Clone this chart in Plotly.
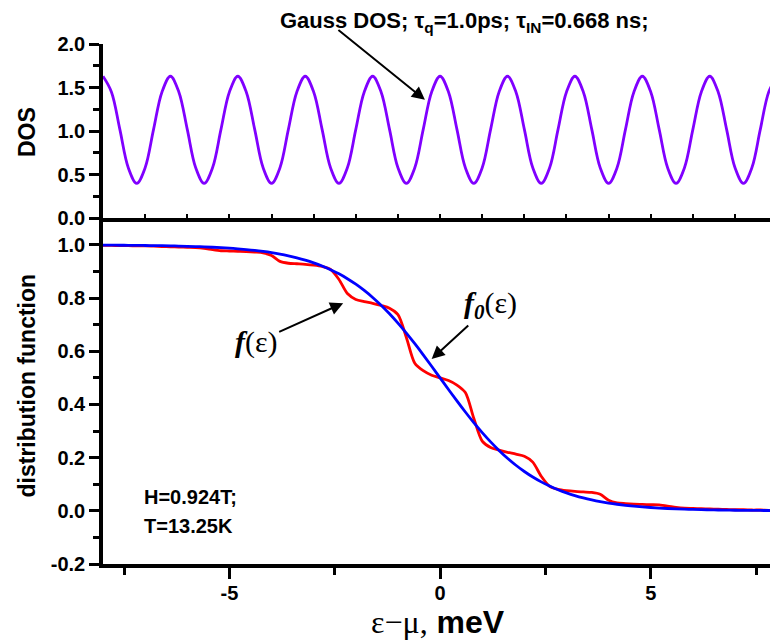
import numpy as np
import plotly.graph_objects as go

# Energy grid, eps - mu in meV
energy = np.linspace(-8.0, 8.0, 81)

# Gaussian-broadened density of states (top panel)
dos = [
    1.63, 1.45, 1.02, 0.58, 0.40, 0.58, 1.02, 1.45,
    1.63, 1.45, 1.02, 0.58, 0.40, 0.58, 1.02, 1.45,
    1.63, 1.45, 1.02, 0.58, 0.40, 0.58, 1.02, 1.45,
    1.63, 1.45, 1.02, 0.58, 0.40, 0.58, 1.02, 1.45,
    1.63, 1.45, 1.02, 0.58, 0.40, 0.58, 1.02, 1.45,
    1.63, 1.45, 1.02, 0.58, 0.40, 0.58, 1.02, 1.45,
    1.63, 1.45, 1.02, 0.58, 0.40, 0.58, 1.02, 1.45,
    1.63, 1.45, 1.02, 0.58, 0.40, 0.58, 1.02, 1.45,
    1.63, 1.45, 1.02, 0.58, 0.40, 0.58, 1.02, 1.45,
    1.63, 1.45, 1.02, 0.58, 0.40, 0.58, 1.02, 1.45,
    1.63,
]

# Non-equilibrium distribution f(eps)
f_noneq = [
    0.998, 0.998, 0.997, 0.997, 0.996, 0.996, 0.995, 0.994, 0.993, 0.992,
    0.991, 0.990, 0.987, 0.982, 0.978, 0.977, 0.976, 0.975, 0.973, 0.970,
    0.960, 0.938, 0.931, 0.929, 0.927, 0.924, 0.919, 0.908, 0.870, 0.817,
    0.795, 0.787, 0.780, 0.772, 0.762, 0.738, 0.652, 0.555, 0.527, 0.510,
    0.500,
    0.490, 0.473, 0.445, 0.348, 0.262, 0.238, 0.228, 0.220, 0.213, 0.205,
    0.183, 0.130, 0.092, 0.081, 0.076, 0.073, 0.071, 0.069, 0.062, 0.040,
    0.030, 0.027, 0.025, 0.024, 0.023, 0.022, 0.018, 0.013, 0.010, 0.009,
    0.008, 0.007, 0.006, 0.005, 0.004, 0.004, 0.003, 0.003, 0.002, 0.002,
]

# Equilibrium Fermi distribution f0(eps)
f_fermi = [
    0.9991, 0.9989, 0.9987, 0.9985, 0.9982, 0.9978, 0.9974, 0.9969, 0.9963, 0.9956,
    0.9948, 0.9938, 0.9926, 0.9912, 0.9896, 0.9876, 0.9853, 0.9825, 0.9792, 0.9753,
    0.9708, 0.9654, 0.9590, 0.9515, 0.9428, 0.9326, 0.9207, 0.9069, 0.8911, 0.8729,
    0.8521, 0.8287, 0.8024, 0.7731, 0.7409, 0.7059, 0.6683, 0.6284, 0.5867, 0.5437,
    0.5000,
    0.4563, 0.4133, 0.3716, 0.3317, 0.2941, 0.2591, 0.2269, 0.1976, 0.1713, 0.1479,
    0.1271, 0.1089, 0.0931, 0.0793, 0.0674, 0.0572, 0.0485, 0.0410, 0.0346, 0.0292,
    0.0247, 0.0208, 0.0175, 0.0147, 0.0124, 0.0104, 0.0088, 0.0074, 0.0062, 0.0052,
    0.0044, 0.0037, 0.0031, 0.0026, 0.0022, 0.0018, 0.0015, 0.0013, 0.0011, 0.0009,
]

x_ticks = [-5, 0, 5]
x_ticktext = ["-5", "0", "5"]
dos_ticks = [0.0, 0.5, 1.0, 1.5, 2.0]
dos_ticktext = ["0.0", "0.5", "1.0", "1.5", "2.0"]
f_ticks = [-0.2, 0.0, 0.2, 0.4, 0.6, 0.8, 1.0]
f_ticktext = ["-0.2", "0.0", "0.2", "0.4", "0.6", "0.8", "1.0"]

W, H = 770, 643
ML, MR, MT, MB = 103, 0, 44, 79
PW, PH = W - ML - MR, H - MT - MB
SPLIT = 1 - (218.3 - MT) / PH

SANS = "Liberation Sans"
SERIF = "Liberation Serif"


def px(xpix):
    return (xpix - ML) / PW


def py(ypix):
    return (H - MB - ypix) / PH


fig = go.Figure()
fig.add_trace(go.Scatter(x=energy, y=dos, xaxis="x2", yaxis="y2", mode="lines",
                         line=dict(color="#8000ff", width=2.8, shape="spline")))
fig.add_trace(go.Scatter(x=energy, y=f_noneq, mode="lines",
                         line=dict(color="#ff0000", width=2.8, shape="spline", smoothing=0.8)))
fig.add_trace(go.Scatter(x=energy, y=f_fermi, mode="lines",
                         line=dict(color="#0000ff", width=2.8, shape="spline")))

tickfont = dict(family=SANS, size=20, color="black", weight="bold")
common = dict(showgrid=False, zeroline=False, showline=True, linecolor="black",
              linewidth=3.5, tickcolor="black", tickwidth=3, mirror=False)

fig.update_layout(
    width=W, height=H, showlegend=False,
    margin=dict(l=ML, r=MR, t=MT, b=MB),
    paper_bgcolor="white", plot_bgcolor="white",
    xaxis=dict(domain=[0, 1], anchor="y", range=[-8.0, 7.83],
               tickvals=x_ticks, ticktext=x_ticktext, ticks="outside", ticklen=11,
               tickfont=tickfont, ticklabelstandoff=-3,
               minor=dict(tickvals=[-7.5, -2.5, 2.5, 7.5], ticks="outside", ticklen=7,
                          tickwidth=3, tickcolor="black"),
               **common),
    xaxis2=dict(domain=[0, 1], anchor="y2", matches="x", showticklabels=False,
                ticks="inside", ticklen=5, dtick=1, tick0=0, **{**common, "tickwidth": 2}),
    yaxis=dict(domain=[0, SPLIT], anchor="x", range=[-0.2, 1.1],
               tickvals=f_ticks, ticktext=f_ticktext, ticks="outside", ticklen=10,
               tickfont=tickfont,
               minor=dict(tickvals=[-0.1, 0.1, 0.3, 0.5, 0.7, 0.9], ticks="outside",
                          ticklen=6, tickwidth=3, tickcolor="black"),
               **common),
    yaxis2=dict(domain=[SPLIT, 1], anchor="x2", range=[0, 2.0],
                tickvals=dos_ticks, ticktext=dos_ticktext, ticks="outside", ticklen=10,
                tickfont=tickfont,
                minor=dict(tickvals=[0.25, 0.75, 1.25, 1.75], ticks="outside",
                           ticklen=6, tickwidth=3, tickcolor="black"),
                **common),
)

ann = []
# panel texts
ann.append(dict(xref="paper", yref="paper", x=px(464), y=py(22), xanchor="center",
                yanchor="middle", showarrow=False,
                text="<b>Gauss DOS; τ<sub>q</sub>=1.0ps; τ<sub>IN</sub>=0.668 ns;</b>",
                font=dict(family=SANS, size=22, color="black")))
ann.append(dict(xref="paper", yref="paper", x=px(27), y=py(132), textangle=-90,
                xanchor="center", yanchor="middle", showarrow=False, text="<b>DOS</b>",
                font=dict(family=SANS, size=23, color="black")))
ann.append(dict(xref="paper", yref="paper", x=px(26.5), y=py(386), textangle=-90,
                xanchor="center", yanchor="middle", showarrow=False,
                text="<b>distribution function</b>",
                font=dict(family=SANS, size=23, color="black")))
ann.append(dict(xref="paper", yref="paper", x=px(437.5), y=py(622), xanchor="center",
                yanchor="middle", showarrow=False,
                text="<span style='font-family:Liberation Serif'>ε−μ,</span><b> meV</b>",
                font=dict(family=SANS, size=32, color="black")))
ann.append(dict(xref="paper", yref="paper", x=px(141.5), y=py(497), xanchor="left",
                yanchor="middle", showarrow=False, text="<b>H=0.924T;</b>",
                font=dict(family=SANS, size=20, color="black")))
ann.append(dict(xref="paper", yref="paper", x=px(141.5), y=py(526), xanchor="left",
                yanchor="middle", showarrow=False, text="<b>T=13.25K</b>",
                font=dict(family=SANS, size=20, color="black")))

# arrow from the DOS caption to the curve
arrow = dict(showarrow=True, arrowhead=2, arrowsize=1.3, arrowwidth=2,
             arrowcolor="black", axref="pixel", ayref="pixel")
ann.append(dict(xref="x2", yref="y2", x=-0.36, y=1.36, ax=-88, ay=-71, text="", **arrow))

# curve labels with arrows pointing at the curves
ann.append(dict(xref="x", yref="y", x=-2.30, y=0.781, ax=-87, ay=39,
                text="<b><i>f</i></b>(ε)", font=dict(family=SERIF, size=30, color="black"),
                **arrow))
ann.append(dict(xref="x", yref="y", x=-0.20, y=0.571, ax=59, ay=-54,
                text="<b><i>f<sub>0</sub></i></b>(ε)",
                font=dict(family=SERIF, size=30, color="black"), **arrow))

fig.update_layout(annotations=ann)
fig.write_html("out.html")
